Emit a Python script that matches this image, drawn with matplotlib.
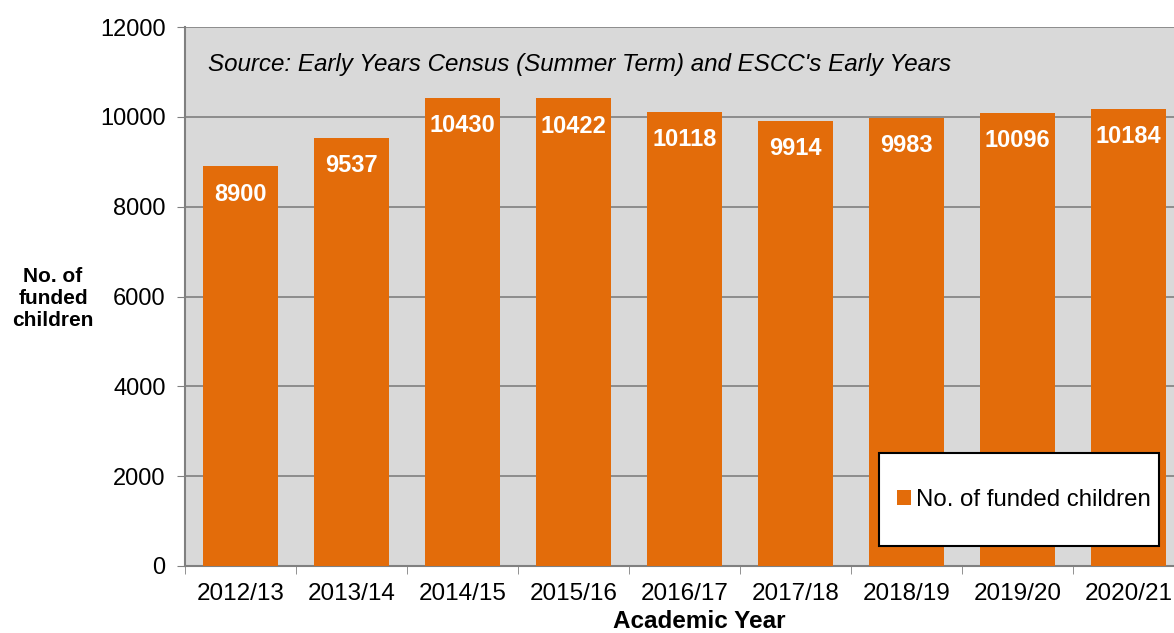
import numpy as np
import matplotlib.pyplot as plt
from matplotlib.patches import Rectangle

years = ["2012/13", "2013/14", "2014/15", "2015/16", "2016/17",
         "2017/18", "2018/19", "2019/20", "2020/21"]
funded = [8900, 9537, 10430, 10422, 10118, 9914, 9983, 10096, 10184]

bar_color = "#E36C0A"
plt.rcParams['font.family'] = ['Liberation Sans', 'DejaVu Sans']

fig = plt.figure(figsize=(11.74, 6.33), dpi=100)
# plot area runs off the right edge, as in the original export
ax = fig.add_axes([185 / 1174, 67 / 633, 999 / 1174, 539 / 633])
ax.set_facecolor("#D9D9D9")

x = np.arange(len(years))
bars = ax.bar(x, funded, width=0.667, color=bar_color, zorder=3,
              label="No. of funded children")

for xi, v in zip(x, funded):
    ax.annotate(str(v), xy=(xi, v), xytext=(0, -12), textcoords="offset points",
                ha="center", va="top", color="white", fontweight="bold",
                fontsize=17, zorder=4)

ax.set_xlim(-0.5, len(years) - 0.5)
ax.set_ylim(0, 12000)
ax.set_yticks(np.arange(0, 12001, 2000))
ax.tick_params(axis="y", labelsize=17, length=6, color="#808080", pad=8)
ax.set_xticks(x)
ax.set_xticklabels(years, fontsize=17.5)
ax.tick_params(axis="x", length=0, pad=12)
ax.set_xticks(np.arange(-0.5, len(years)), minor=True)
ax.tick_params(axis="x", which="minor", length=6, color="#808080", direction="out")

ax.grid(axis="y", color="#808080", linewidth=1.2, zorder=1)
for s in ["top", "right"]:
    ax.spines[s].set_visible(False)
for s in ["left", "bottom"]:
    ax.spines[s].set_color("#808080")
    ax.spines[s].set_linewidth(1.5)

ax.text(0.023, 0.93, "Source: Early Years Census (Summer Term) and ESCC's Early Years",
        transform=ax.transAxes, fontsize=17.4, style="italic", va="center")

ax.set_xlabel("Academic Year", fontsize=17.5, fontweight="bold", labelpad=4)
ax.xaxis.label.set_x(514 / 999)
fig.text(53 / 1174, 1 - 298 / 633, "No. of\nfunded\nchildren", ha="center", va="center",
         fontsize=15, fontweight="bold", linespacing=1.2)

# legend box drawn separately so the padding can match the original
ax.add_patch(Rectangle((694 / 999, 20 / 539), 280 / 999, 93 / 539, transform=ax.transAxes,
                       facecolor="white", edgecolor="black", linewidth=1.5, zorder=5))
leg = ax.legend(loc="center left", bbox_to_anchor=(712 / 999, 66 / 539),
                fontsize=17.3, frameon=False, handlelength=0.6, handleheight=0.6,
                handletextpad=0.2, borderpad=0, borderaxespad=0)
leg.set_zorder(6)

fig.savefig("out.png", dpi=100)
